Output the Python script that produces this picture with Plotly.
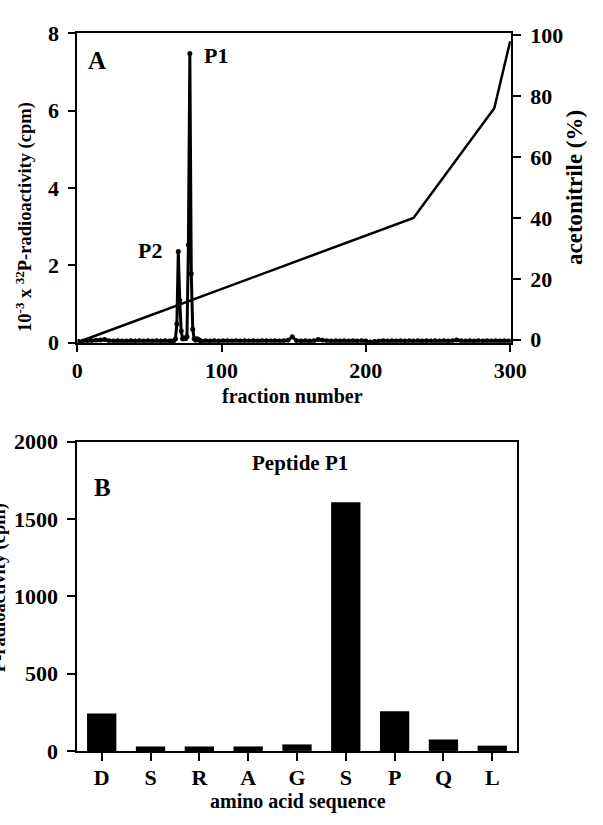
import plotly.graph_objects as go

W, H = 603, 825

# ---------------- Panel A data ----------------
fraction = [1, 4, 7, 10, 13, 16, 19, 22, 25, 28, 31, 34, 37, 40, 43, 46, 49, 52, 55, 58, 61, 64,
            65, 66, 67, 68, 69, 70, 71, 72, 73, 74, 75, 76, 77, 78, 79, 80, 81, 82, 83, 84, 85, 86,
            89, 92, 95, 98, 101, 104, 107, 110, 113, 116, 119, 122, 125, 128, 131, 134, 137, 140, 143, 146,
            149,
            152, 155, 158, 161, 164, 167, 170, 173, 176, 179, 182, 185, 188, 191, 194, 197, 200, 203, 206, 209,
            212, 215, 218, 221, 224, 227, 230, 233, 236, 239, 242, 245, 248, 251, 254, 257, 260, 263, 266, 269,
            272, 275, 278, 281, 284, 287, 290, 293, 296, 299]
radioactivity = [0.03, 0.04, 0.05, 0.05, 0.06, 0.07, 0.08, 0.05, 0.04, 0.05, 0.04, 0.04, 0.05, 0.04, 0.05, 0.04,
                 0.05, 0.04, 0.05, 0.04, 0.05, 0.04,
                 0.04, 0.03, 0.05, 0.10, 0.48, 2.36, 1.10, 0.30, 0.10, 0.12, 0.10, 0.15, 2.53, 7.48, 1.78, 0.35,
                 0.10, 0.06, 0.10, 0.08, 0.05, 0.04,
                 0.05, 0.04, 0.05, 0.04, 0.05, 0.05, 0.04, 0.05, 0.04, 0.05, 0.04, 0.05, 0.04, 0.05, 0.05, 0.04,
                 0.05, 0.04, 0.05, 0.06,
                 0.15,
                 0.05, 0.04, 0.05, 0.04, 0.05, 0.08, 0.06, 0.05, 0.04, 0.05, 0.04, 0.05, 0.04, 0.05, 0.04, 0.05,
                 0.04, 0.02, 0.03, 0.04, 0.05, 0.04, 0.05, 0.04, 0.05, 0.04, 0.05, 0.04, 0.05, 0.04, 0.05, 0.04,
                 0.05, 0.04, 0.05, 0.04, 0.05, 0.07, 0.05, 0.04, 0.05, 0.04, 0.05, 0.04, 0.05, 0.04, 0.05, 0.04,
                 0.05, 0.04, 0.05]

acn_fraction = [5, 233, 289, 300]
acn_percent = [0, 40, 76, 98]

# ---------------- Panel B data ----------------
residues = ["D", "S", "R", "A", "G", "S", "P", "Q", "L"]
counts = [242, 28, 28, 29, 42, 1608, 257, 74, 34]

# ---------------- helpers ----------------
def px_x(p):
    return p / W

def px_y(p):
    return 1 - p / H

FONT = "Liberation Serif"
tickfont = dict(family=FONT, size=22, color="black", weight="bold")

fig = go.Figure()

fig.add_trace(go.Scatter(
    x=fraction, y=radioactivity, mode="lines+markers",
    line=dict(color="black", width=3), marker=dict(color="black", size=5),
    xaxis="x", yaxis="y", showlegend=False))

fig.add_trace(go.Scatter(
    x=acn_fraction, y=acn_percent, mode="lines",
    line=dict(color="black", width=2.5),
    xaxis="x", yaxis="y2", showlegend=False))

fig.add_trace(go.Bar(
    x=list(range(len(residues))), y=counts, width=0.6,
    marker=dict(color="black", line=dict(width=0)),
    xaxis="x2", yaxis="y3", showlegend=False))

axis_common = dict(showgrid=False, zeroline=False, showline=True, linecolor="black",
                   linewidth=2, ticks="outside", tickcolor="black", tickwidth=2,
                   tickfont=tickfont)

fig.update_layout(
    width=W, height=H,
    margin=dict(l=0, r=0, t=0, b=0),
    paper_bgcolor="white", plot_bgcolor="white",
    xaxis=dict(axis_common, domain=[px_x(74), px_x(524)], range=[0, 300.5],
               tickvals=[0, 100, 200, 300], ticklen=7, mirror=True, anchor="y"),
    yaxis=dict(axis_common, domain=[px_y(341), px_y(22)], range=[0, 8],
               tickvals=[0, 2, 4, 6, 8], ticklen=7, ticklabelstandoff=5, anchor="x"),
    yaxis2=dict(axis_common, domain=[px_y(341), px_y(22)], range=[-0.96, 100.6],
                tickvals=[0, 20, 40, 60, 80, 100], ticklen=8, ticklabelstandoff=5,
                overlaying="y", side="right", anchor="x"),
    xaxis2=dict(axis_common, domain=[px_x(74), px_x(530)], range=[-0.5, 8.5],
                tickvals=list(range(len(residues))), ticktext=residues, ticklen=8,
                ticklabelstandoff=-2, mirror=True, anchor="y3"),
    yaxis3=dict(axis_common, domain=[px_y(762), px_y(443)], range=[0, 2000],
                tickvals=[0, 500, 1000, 1500, 2000], ticklen=8, ticklabelstandoff=5,
                mirror=True, anchor="x2"),
)

def ann(text, x, y, size=21, angle=0):
    fig.add_annotation(text=text, x=px_x(x), y=px_y(y), xref="paper", yref="paper",
                       showarrow=False, textangle=angle, xanchor="center", yanchor="middle",
                       font=dict(family=FONT, size=size, color="black", weight="bold"))

ann("A", 94, 50, 25)
ann("P1", 218, 45, 22)
ann("P2", 149, 246, 22)
ann("fraction number", 297, 396, 20)
ann("10<sup>-3</sup> x <sup>32</sup>P-radioactivity (cpm)", 19, 211, 18.5, -90)
ann("acetonitrile (%)", 590, 181, 23, -90)

ann("B", 100, 490, 25)
ann("Peptide P1", 305, 465, 21)
ann("amino acid sequence", 303, 814, 20)
ann("<sup>32</sup>P-radioactivity (cpm)", -8, 600, 18.5, -90)

fig.write_html("out.html")
